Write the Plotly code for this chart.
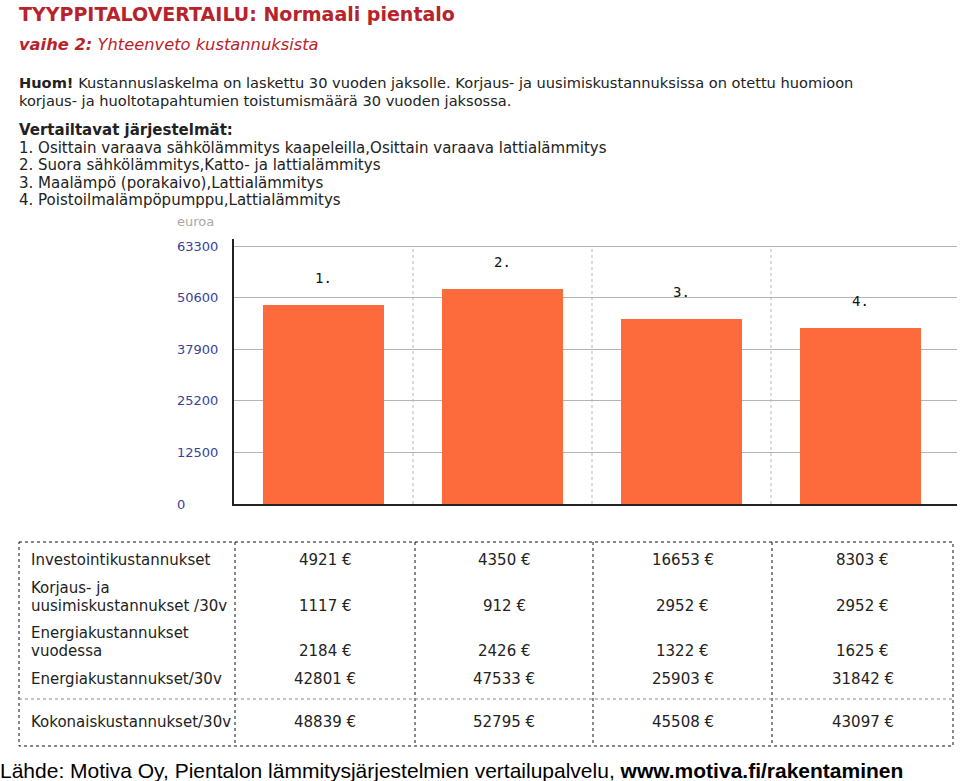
import plotly.graph_objects as go

# ---------------- data ----------------
categories = ["1.", "2.", "3.", "4."]
systems = [
    "1. Osittain varaava sähkölämmitys kaapeleilla,Osittain varaava lattialämmitys",
    "2. Suora sähkölämmitys,Katto- ja lattialämmitys",
    "3. Maalämpö (porakaivo),Lattialämmitys",
    "4. Poistoilmalämpöpumppu,Lattialämmitys",
]
investointi = [4921, 4350, 16653, 8303]
korjaus_30v = [1117, 912, 2952, 2952]
energia_vuodessa = [2184, 2426, 1322, 1625]
energia_30v = [42801, 47533, 25903, 31842]
kokonais_30v = [48839, 52795, 45508, 43097]

tick_vals = [0, 12660, 25320, 37980, 50640, 63300]
tick_text = ["0", "12500", "25200", "37900", "50600", "63300"]

row_labels = [
    ["Investointikustannukset"],
    ["Korjaus- ja", "uusimiskustannukset /30v"],
    ["Energiakustannukset", "vuodessa"],
    ["Energiakustannukset/30v"],
    ["Kokonaiskustannukset/30v"],
]
table_rows = [investointi, korjaus_30v, energia_vuodessa, energia_30v, kokonais_30v]

# ---------------- layout helpers (pixels -> paper) ----------------
W, H = 960, 781
PL, PR, PT, PB = 234, 957, 239, 504


def fx(px):
    return (px - PL) / (PR - PL)


def fy(py):
    return (PB - py) / (PB - PT)


RED = "#b8232b"
TXT = "#222222"
FONT = "DejaVu Sans"

xpos = list(range(len(categories)))

fig = go.Figure()
fig.add_trace(go.Bar(
    x=xpos, y=kokonais_30v, width=0.676,
    marker=dict(color="#fd6b3c", line=dict(width=0)),
    hoverinfo="skip",
))

ann = []
shapes = []

# bar labels
for xi, c, v in zip(xpos, categories, kokonais_30v):
    ann.append(dict(x=xi, y=v, xref="x", yref="y", text=c, showarrow=False,
                    yshift=27, font=dict(family="DejaVu Sans Mono", size=14, color="#111")))

# y tick labels (left aligned)
for v, t in zip(tick_vals, tick_text):
    ann.append(dict(x=fx(175), y=v, xref="paper", yref="y", text=t, showarrow=False,
                    xanchor="left", yanchor="middle",
                    font=dict(family=FONT, size=13, color="#3a3f99")))
ann.append(dict(x=fx(175), y=fy(221), xref="paper", yref="paper", text="euroa",
                showarrow=False, xanchor="left", yanchor="middle",
                font=dict(family=FONT, size=13, color="#a8a8a8")))

# vertical dotted separators in plot
for i in range(len(categories) - 1):
    shapes.append(dict(type="line", xref="x", yref="paper", x0=i + 0.5, x1=i + 0.5,
                       y0=0, y1=fy(246), line=dict(color="#b8b8b8", width=1, dash="dot")))


def text_left(px, py, txt, size=15, color=TXT, family=FONT):
    ann.append(dict(x=fx(px), y=fy(py), xref="paper", yref="paper", text=txt,
                    showarrow=False, xanchor="left", yanchor="middle",
                    font=dict(family=family, size=size, color=color)))


# header texts
text_left(17, 14, "<b>TYYPPITALOVERTAILU: Normaali pientalo</b>", size=19, color=RED)
text_left(17, 45, "<b><i>vaihe 2:</i></b><i> Yhteenveto kustannuksista</i>", size=16.3, color=RED)
text_left(17, 83, "<b>Huom!</b> Kustannuslaskelma on laskettu 30 vuoden jaksolle. "
          "Korjaus- ja uusimiskustannuksissa on otettu huomioon", size=14.6)
text_left(17, 101, "korjaus- ja huoltotapahtumien toistumismäärä 30 vuoden jaksossa.", size=14.6)
text_left(17, 130, "<b>Vertailtavat järjestelmät:</b>")
for k, s in enumerate(systems):
    text_left(17, [148, 165, 183, 200][k], s)

# table
val_y = [560, 606, 651, 679, 722]
col_edges = [19, 235, 415, 593, 772, 953]
for r, (lab, vals) in enumerate(zip(row_labels, table_rows)):
    for j, line in enumerate(lab):
        text_left(29, val_y[r] - 18 * (len(lab) - 1 - j), line)
    for c, v in enumerate(vals):
        cx = (col_edges[c + 1] + col_edges[c + 2]) / 2
        ann.append(dict(x=fx(cx), y=fy(val_y[r]), xref="paper", yref="paper",
                        text=f"{v} €", showarrow=False, xanchor="center", yanchor="middle",
                        font=dict(family=FONT, size=15, color=TXT)))

tb_top, tb_sep, tb_bot = 542, 699, 746
dotted = dict(color="#111", width=1, dash="dot")
shapes.append(dict(type="rect", xref="paper", yref="paper", x0=fx(19), x1=fx(953),
                   y0=fy(tb_top), y1=fy(tb_bot), line=dotted))
for xe in col_edges[1:-1]:
    shapes.append(dict(type="line", xref="paper", yref="paper", x0=fx(xe), x1=fx(xe),
                       y0=fy(tb_top), y1=fy(tb_bot), line=dotted))
shapes.append(dict(type="line", xref="paper", yref="paper", x0=fx(19), x1=fx(953),
                   y0=fy(tb_sep), y1=fy(tb_sep), line=dict(color="#888", width=1, dash="dot")))

# footer
text_left(-2, 770, "Lähde: Motiva Oy, Pientalon lämmitysjärjestelmien vertailupalvelu, "
          "<b>www.motiva.fi/rakentaminen</b>", size=21, color="#000", family="Liberation Sans")

fig.update_layout(
    width=W, height=H,
    margin=dict(l=PL, r=W - PR, t=PT, b=H - PB, pad=0),
    paper_bgcolor="white", plot_bgcolor="white",
    showlegend=False,
    annotations=ann, shapes=shapes,
    bargap=0,
    xaxis=dict(range=[-0.5, 3.5 + 7 / 179], showticklabels=False,
               ticks="", showgrid=False, zeroline=False, showline=True,
               linecolor="#222", linewidth=2, fixedrange=True),
    yaxis=dict(range=[0, 63300 * 265 / 258], tickvals=tick_vals, showticklabels=False,
               ticks="", showgrid=True, gridcolor="#b4b4b4", gridwidth=1, zeroline=False,
               showline=True, linecolor="#222", linewidth=2, fixedrange=True),
)

fig.write_html("out.html")
